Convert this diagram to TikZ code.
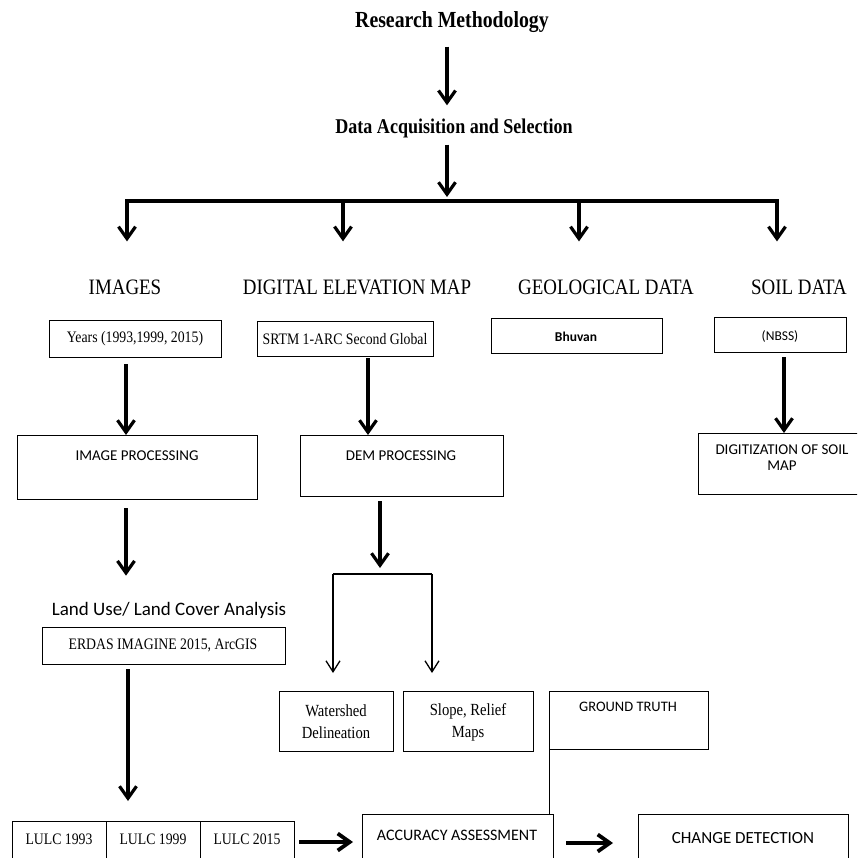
\documentclass[tikz,border=0pt]{standalone}
\usepackage{fontspec}
\setmainfont{Liberation Serif}
\newfontfamily\ctimes[FakeStretch=0.86]{Liberation Serif}
\newfontfamily\calib{Carlito}
\usetikzlibrary{arrows.meta,calc}
\tikzset{
  box/.style={draw, line width=1.3pt, rectangle, inner sep=0pt, anchor=north west},
  tx/.style={inner sep=0pt, align=center},
  serifbox/.style={tx, font=\ctimes\fontsize{16}{19}\selectfont},
  sansbox/.style={tx, font=\calib\fontsize{15}{16}\selectfont},
  cat/.style={tx, font=\ctimes\fontsize{22}{24}\selectfont},
  big/.style={line width=3.2pt, -{Straight Barb[length=12pt,width=17pt]}},
  thinarr/.style={line width=1.3pt, -{Straight Barb[length=11pt,width=14pt]}},
  thinline/.style={line width=1.3pt},
}
\newcommand\bx[5]{\node[box, minimum width={#4pt-#2pt}, minimum height={#5pt-#3pt}] (#1) at (#2,#3) {};}
\begin{document}
\begin{tikzpicture}[x=1pt,y=-1pt]
\useasboundingbox (0,0) rectangle (857,858);
\clip (0,0) rectangle (857,858);
% titles
\node[tx, font=\ctimes\bfseries\fontsize{23}{26}\selectfont] (title) at (452,22) {Research Methodology};
\node[tx, font=\ctimes\bfseries\fontsize{21}{24}\selectfont] (daq) at (454,128) {Data Acquisition and Selection};
\coordinate (ax) at (447,0);
\coordinate (bm) at (447,201);
\coordinate (b1) at (127,201);
\coordinate (b2) at (343,201);
\coordinate (b3) at (579,201);
\coordinate (b4) at (777,201);
\draw[big, shorten <=14pt, shorten >=13pt] (title.south -| ax) -- (daq.north -| ax);
\draw[big, shorten <=7pt, shorten >=4pt] (daq.south -| ax) -- (bm);
\draw[line width=4.5pt, line cap=rect] (b1) -- (b4);
% categories
\node[cat] (img) at (125,287) {IMAGES};
\node[cat] (dem0) at (357,287) {DIGITAL ELEVATION MAP};
\node[cat] (geo) at (606,287) {GEOLOGICAL DATA};
\node[cat] (soil) at (799,287) {SOIL DATA};
\draw[big, shorten >=38pt] (b1) -- (img.north -| b1);
\draw[big, shorten >=38pt] (b2) -- (dem0.north -| b2);
\draw[big, shorten >=38pt] (b3) -- (geo.north -| b3);
\draw[big, shorten >=38pt] (b4) -- (soil.north -| b4);
% source boxes
\bx{yrs}{49}{320}{221}{357}
\bx{srtm}{257}{321}{433}{356}
\bx{bhu}{491}{318}{662}{353}
\bx{nbss}{714}{317}{846}{352}
\node[serifbox] (yrst) at (135,339) {Years (1993,1999, 2015)};
\node[serifbox] (srtmt) at (345,339) {SRTM 1-ARC Second Global};
\node[tx, font=\calib\bfseries\fontsize{13.5}{15}\selectfont] (bhut) at (576,337) {Bhuvan};
\node[tx, font=\calib\fontsize{13.5}{15}\selectfont] (nbsst) at (780,336) {(NBSS)};
% processing boxes
\bx{ip}{17}{435}{257}{499}
\bx{dem}{300}{435}{503}{496}
\bx{dsm}{698}{433}{875}{494}
\node[sansbox] (ipt) at (137,456) {IMAGE PROCESSING};
\node[sansbox] (demt) at (401,456) {DEM PROCESSING};
\node[sansbox, font=\calib\fontsize{15}{16}\selectfont] (dsmt) at (782,458) {DIGITIZATION OF SOIL\\MAP};
\coordinate (xa) at (126,0);
\coordinate (xb) at (368,0);
\coordinate (xd) at (784,0);
\draw[big, shorten <=6pt] (yrs.south -| xa) -- (ip.north -| xa);
\draw[big, shorten <=1pt] (srtm.south -| xb) -- (dem.north -| xb);
\draw[big, shorten <=4pt] (nbss.south -| xd) -- (dsm.north -| xd);
% land use
\node[tx, font=\calib\fontsize{19}{21}\selectfont] (lula) at (169,610) {Land Use/ Land Cover Analysis};
\draw[big, shorten <=8pt, shorten >=26pt] (ip.south -| xa) -- (lula.north -| xa);
\bx{erdas}{42}{627}{285}{664}
\node[serifbox] (erdast) at (163,645) {ERDAS IMAGINE 2015, ArcGIS};
% DEM branch
\coordinate (xc) at (380,0);
\coordinate (bl) at (333,574);
\coordinate (br) at (432,574);
\draw[big, shorten <=4pt, shorten >=6pt] (dem.south -| xc) -- (bl -| xc);
\draw[thinline] (bl) -- (br);
\bx{ws}{279}{691}{393}{751}
\bx{sr}{403}{691}{533}{751}
\bx{gt}{549}{691}{708}{749}
\draw[thinarr, shorten >=18pt] (bl) -- (ws.north -| bl);
\draw[thinarr, shorten >=18pt] (br) -- (sr.north -| br);
\node[serifbox, font=\ctimes\fontsize{17}{22}\selectfont] (wst) at (336,722) {Watershed\\Delineation};
\node[serifbox, font=\ctimes\fontsize{17}{22}\selectfont] (srt) at (468,722) {Slope, Relief\\Maps};
\node[sansbox, font=\calib\fontsize{14.5}{16}\selectfont] (gtt) at (628,707) {GROUND TRUTH};
% bottom row
\bx{l1}{12}{821}{106}{885}
\bx{l2}{106}{821}{200}{885}
\bx{l3}{200}{821}{294}{885}
\node[serifbox] (l1t) at (59,839) {LULC 1993};
\node[serifbox] (l2t) at (153,839) {LULC 1999};
\node[serifbox] (l3t) at (247,839) {LULC 2015};
\coordinate (xe) at (128,0);
\draw[big, shorten <=4pt, shorten >=20pt] (erdas.south -| xe) -- (l2.north -| xe);
\bx{acc}{362}{814}{553}{885}
\bx{cd}{638}{814}{848}{885}
\node[sansbox, font=\calib\fontsize{16}{18}\selectfont] (acct) at (457,835) {ACCURACY ASSESSMENT};
\node[sansbox, font=\calib\fontsize{17}{19}\selectfont] (cdt) at (743,838) {CHANGE DETECTION};
\coordinate (ra) at (0,842);
\coordinate (rb) at (0,843);
\draw[big, line width=3.8pt, shorten <=4pt, shorten >=9pt] (l3.east |- ra) -- (acc.west |- ra);
\draw[big, line width=3.8pt, shorten <=12pt, shorten >=25pt] (acc.east |- rb) -- (cd.west |- rb);
\draw[line width=1pt] (gt.south west) -- (gt.south west |- acc.north);
\end{tikzpicture}
\end{document}
